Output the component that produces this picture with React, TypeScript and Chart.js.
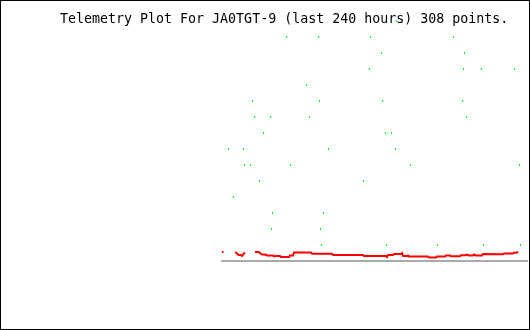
import React, { useEffect, useRef } from "react";
import { Chart, registerables } from "chart.js";

Chart.register(...registerables);

const TITLE = "Telemetry Plot For JA0TGT-9 (last 240 hours) 308 points.";
const X_MAX_HOURS = 245.6;
const Y_MAX = 15;

// Green channel (hours from start of window, value)
const greenHours = [
  0.4, 7.6, 140.4,
  52.4, 78, 119.6, 186,
  128.4, 194.8,
  118.8, 194, 208.4, 234.8,
  68.4,
  25.2, 78.8, 129.2, 193.2,
  26.8, 39.6, 70.8, 196.4,
  34, 131.6, 136.4,
  6, 18, 86, 139.6,
  18.8, 23.6, 55.6, 151.6, 238.8,
  30.8, 114,
  10,
  41.2, 82,
  40.4, 79.6,
  80.4, 132.4, 173.2, 210, 239.6,
];
const greenValues = [
  15, 15, 15,
  14, 14, 14, 14,
  13, 13,
  12, 12, 12, 12,
  11,
  10, 10, 10, 10,
  9, 9, 9, 9,
  8, 8, 8,
  7, 7, 7, 7,
  6, 6, 6, 6, 6,
  5, 5,
  4,
  3, 3,
  2, 2,
  1, 1, 1, 1, 1,
];

// Red channel (null = gap in the trace)
const redHours = [
  0.8, 2.0, 6.0,
  11.2, 12.8, 14.0, 16.0, 16.8, 18.0, 19.2, 23.0,
  27.2, 30.4, 31.6, 32.8, 35.2, 36.8, 41.6, 42.4, 44.0, 47.2, 48.0, 54.4,
  55.2, 57.6, 58.4, 72.0, 72.8, 88.8, 89.6, 113.6, 114.4, 132.0, 132.8,
  133.6, 137.6, 138.4, 144.0, 144.8, 145.6, 148.8, 149.6, 150.4, 165.6,
  166.4, 172.0, 172.8, 179.2, 180.0, 183.2, 184.0, 191.2, 192.0, 195.2,
  196.8, 198.4, 201.6, 202.4, 204.0, 208.8, 209.6, 225.6, 226.4, 233.6,
  234.4, 236.8, 237.6,
];
const redValues = [
  0.5625, 0.5625, null,
  0.5625, 0.469, 0.375, 0.375, 0.3125, 0.4375, 0.531, null,
  0.5625, 0.5625, 0.469, 0.406, 0.406, 0.344, 0.344, 0.281, 0.3125, 0.3125, 0.25, 0.25,
  0.344, 0.344, 0.531, 0.531, 0.456, 0.456, 0.375, 0.375, 0.3125, 0.3125, 0.25,
  0.375, 0.375, 0.4375, 0.4375, 0.5, 0.3125, 0.3125, 0.344, 0.281, 0.281,
  0.219, 0.219, 0.281, 0.281, 0.344, 0.344, 0.294, 0.294, 0.356, 0.356,
  0.406, 0.344, 0.344, 0.406, 0.344, 0.344, 0.4375, 0.419, 0.469, 0.469,
  0.519, 0.531, 0.594,
];

// Zero reference line
const baselineHours = [0, X_MAX_HOURS];
const baselineValues = [0, 0];

const framePlugin = {
  id: "frame",
  beforeDatasetsDraw(chart: any) {
    chart.ctx.imageSmoothingEnabled = false;
  },
  afterDraw(chart: any) {
    const ctx = chart.ctx as CanvasRenderingContext2D;
    ctx.save();
    ctx.strokeStyle = "#000000";
    ctx.lineWidth = 1;
    ctx.strokeRect(0.5, 0.5, chart.width - 1, chart.height - 1);
    ctx.fillStyle = "#000000";
    ctx.font = '13.3px "DejaVu Sans Mono"';
    ctx.textAlign = "left";
    ctx.textBaseline = "alphabetic";
    ctx.fillText(TITLE, 60, 23);
    ctx.restore();
  },
};

export default function App() {
  const ref = useRef<HTMLCanvasElement | null>(null);

  useEffect(() => {
    const canvas = ref.current;
    if (!canvas) return;

    const mark = document.createElement("canvas");
    mark.width = 1;
    mark.height = 2;
    const mctx = mark.getContext("2d")!;
    mctx.fillStyle = "#00ff00";
    mctx.fillRect(0, 0, 1, 2);

    const chart = new Chart(canvas, {
      type: "scatter",
      data: {
        datasets: [
          {
            label: "red",
            data: redHours.map((h, i) => ({ x: h, y: redValues[i] })),
            showLine: true,
            spanGaps: false,
            borderColor: "#ff0000",
            backgroundColor: "#ff0000",
            borderWidth: 2,
            pointRadius: 0,
            tension: 0,
            clip: false,
            order: 0,
          } as any,
          {
            label: "green",
            data: greenHours.map((h, i) => ({ x: h, y: greenValues[i] })),
            showLine: false,
            pointStyle: mark as any,
            pointRadius: 1,
            backgroundColor: "#00ff00",
            borderColor: "#00ff00",
            clip: false,
            order: 1,
          } as any,
          {
            label: "zero",
            data: baselineHours.map((h, i) => ({ x: h, y: baselineValues[i] })),
            showLine: true,
            borderColor: "#aaaaaa",
            borderWidth: 2,
            pointRadius: 0,
            clip: false,
            order: 2,
          } as any,
        ],
      },
      options: {
        responsive: false,
        animation: false,
        devicePixelRatio: 1,
        layout: {
          autoPadding: false,
          padding: { left: 221, right: 2, top: 21, bottom: 69 },
        },
        scales: {
          x: { type: "linear", min: 0, max: X_MAX_HOURS, display: false },
          y: { type: "linear", min: 0, max: Y_MAX, display: false },
        },
        plugins: {
          legend: { display: false },
          tooltip: { enabled: false },
          title: { display: false },
        },
        events: [],
      },
      plugins: [framePlugin],
    });

    return () => chart.destroy();
  }, []);

  return (
    <div
      style={{
        position: "absolute",
        left: 0,
        top: 0,
        width: 530,
        height: 330,
        background: "#ffffff",
      }}
    >
      <canvas ref={ref} width={530} height={330} style={{ display: "block" }} />
    </div>
  );
}
